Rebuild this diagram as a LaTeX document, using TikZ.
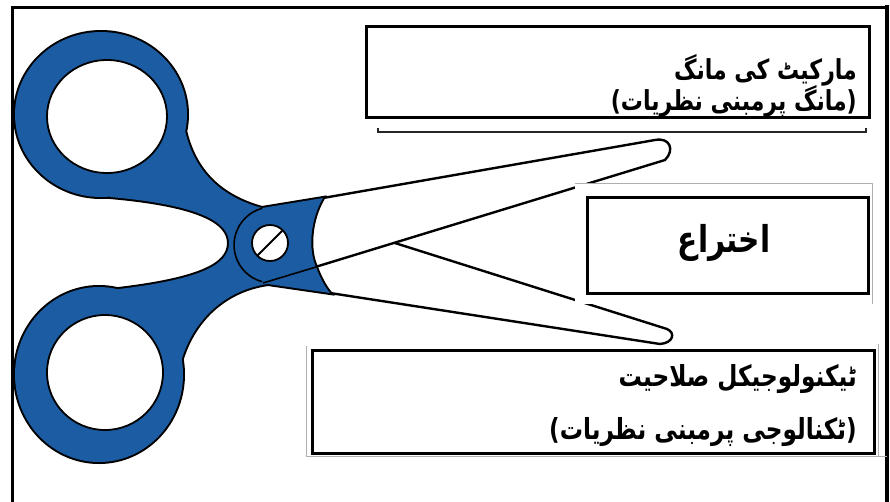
\documentclass[tikz,border=0pt]{standalone}
\usepackage{fontspec}
\usetikzlibrary{positioning}
\TeXXeTstate=1
\newfontfamily\urdu[Script=Arabic, FakeStretch=0.8]{DejaVu Sans}
\definecolor{handleblue}{RGB}{28,92,162}
\definecolor{shadowgray}{RGB}{175,175,175}
\tikzset{
    box/.style={rectangle, draw=black, line width=3pt, fill=white, inner sep=0pt},
    urdutext/.style={anchor=east, inner sep=0pt, font=\urdu\bfseries\fontsize{29}{34}\selectfont},
    smallurdu/.style={urdutext, font=\urdu\bfseries\fontsize{27.5}{32}\selectfont},
    blade/.style={draw=black, fill=white, line width=2.4pt, line join=round},
    thinrule/.style={draw=shadowgray, line width=0.8pt},
}
% handle pieces, drawn twice (outline pass, then fill pass)
\newcommand\upperring{(101,114.5) ellipse [x radius=86, y radius=82.5]}
\newcommand\lowerring{(99,374.5) ellipse [x radius=84, y radius=87.5]}
\newcommand\handlestem{(183,120) .. controls (190,165) and (215,195) .. (262,208) -- (323,198)
    .. controls (310,220) and (308,250) .. (316,267) .. controls (320,278) and (325,287) .. (330,293)
    -- (268,284) .. controls (225,290) and (192,320) .. (180,365) -- (120,330) -- (110,290)
    .. controls (200,280) and (229,265) .. (229,243) .. controls (229,222) and (200,205) .. (110,197)
    -- (120,160) -- cycle}

\begin{document}
\begin{tikzpicture}[x=1pt, y=-1pt]
\useasboundingbox (0,0) rectangle (890,501);

% frame
\draw[line width=3pt] (12,503) -- (12,7) -- (887,7);
\draw[line width=4pt] (887,5) -- (887,503);

% blades
\draw[blade] (300,213) -- (667,329) .. controls (676,333) and (673,343) .. (660,344)
    -- (330,293) -- (300,270) -- cycle;
\draw[blade] (323,198) -- (655,140) .. controls (670,137) and (675,150) .. (665,160)
    -- (312,268) -- (305,230) -- cycle;

% handles
\draw[line width=4pt] \upperring \lowerring \handlestem;
\fill[handleblue] \upperring;
\fill[handleblue] \lowerring;
\fill[handleblue] \handlestem;
\draw[fill=white, line width=1.8pt] (107,116.5) ellipse [x radius=60, y radius=56.5];
\draw[fill=white, line width=1.8pt] (105,372.5) ellipse [x radius=58, y radius=57.5];

% pivot and screw
\draw[line width=1.6pt] (262.2,281.7) arc [start angle=105, end angle=255, radius=38];
\draw[line width=1.6pt] (316,267) -- (263,283);
\draw[fill=white, line width=1.8pt] (270,243) circle [radius=18];
\draw[line width=1.8pt] (257,256) -- (283,230);

% middle box
\fill[white] (575,183) rectangle (872,304);
\draw[thinrule] (575,183) -- (872,183) -- (872,304);
\node[box, minimum width=281, minimum height=96] (inventbox) at (727.5,245) {};
\node[urdutext, anchor=center, font=\urdu\bfseries\fontsize{37}{42}\selectfont] (invention) at (724,243) {\beginR اختراع\endR};

% top box
\node[box, minimum width=503, minimum height=91] (demandbox) at (617.5,71.5) {};
\draw[line width=1.2pt, black!85] (378,128) -- (378,132) -- (866,132) -- (866,128);
\node[smallurdu] (demand) at (857,70) {\beginR مارکیٹ کی مانگ\endR};
\node[smallurdu] (demandtheory) at (857,101) {\beginR(مانگ پرمبنی نظریات)\endR};

% bottom box
\draw[thinrule] (306,346) -- (306,456) -- (887,456);
\draw[thinrule] (878,344) -- (878,456);
\node[box, minimum width=562, minimum height=103] (techbox) at (593,401.5) {};
\node[urdutext] (tech) at (857,379) {\beginR ٹیکنولوجیکل صلاحیت\endR};
\node[urdutext] (techtheory) at (857,432) {\beginR(ٹکنالوجی پرمبنی نظریات)\endR};

\end{tikzpicture}
\end{document}
